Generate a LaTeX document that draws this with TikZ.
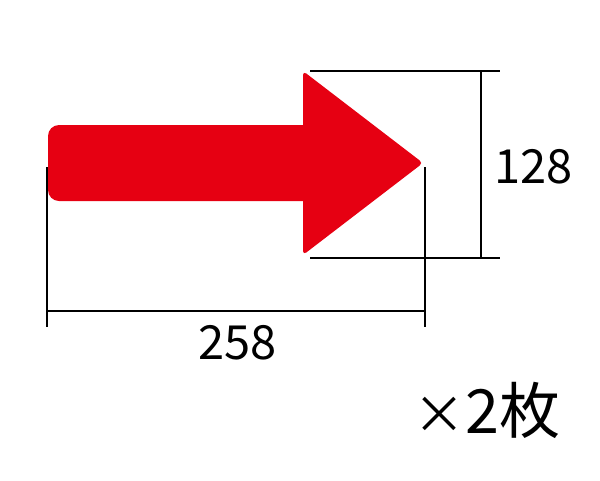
\documentclass[tikz,border=0pt]{standalone}
\usepackage{fontspec}
\setmainfont{Noto Sans CJK JP}
\definecolor{arrowred}{HTML}{E60012}
\begin{document}
\begin{tikzpicture}[x=1pt,y=-1pt,
  dim/.style={line width=1.4pt,black},
  lbl/.style={inner sep=0pt,anchor=base,font=\fontsize{47}{52}\selectfont}]
\useasboundingbox (0,0) rectangle (600,480);
\fill[arrowred] (303,125) [rounded corners=4] -- (303,71) -- (423,163) -- (303,255) [sharp corners] -- (303,201) [rounded corners=11] -- (48,201) -- (48,125) [sharp corners] -- cycle;
% height dimension
\coordinate (t1) at (310,71); \coordinate (t2) at (500,71);
\coordinate (b1) at (310,258); \coordinate (b2) at (500,258);
\coordinate (v1) at (481,71); \coordinate (v2) at (481,258);
\draw[dim] (t1) -- (t2);
\draw[dim] (b1) -- (b2);
\draw[dim] (v1) -- (v2);
% width dimension
\coordinate (l1) at (47,167); \coordinate (l2) at (47,327);
\coordinate (r1) at (425,167); \coordinate (r2) at (425,327);
\coordinate (h1) at (47,311); \coordinate (h2) at (425,311);
\draw[dim] (l1) -- (l2);
\draw[dim] (r1) -- (r2);
\draw[dim] (h1) -- (h2);
\node[lbl] (w) at (237.5,359) {258};
\node[lbl] (h) at (533.5,183) {128};
\node[lbl,font=\fontsize{61}{66}\selectfont] (n) at (487,433) {{\fontsize{52}{56}\selectfont ×}2枚};
\end{tikzpicture}
\end{document}
